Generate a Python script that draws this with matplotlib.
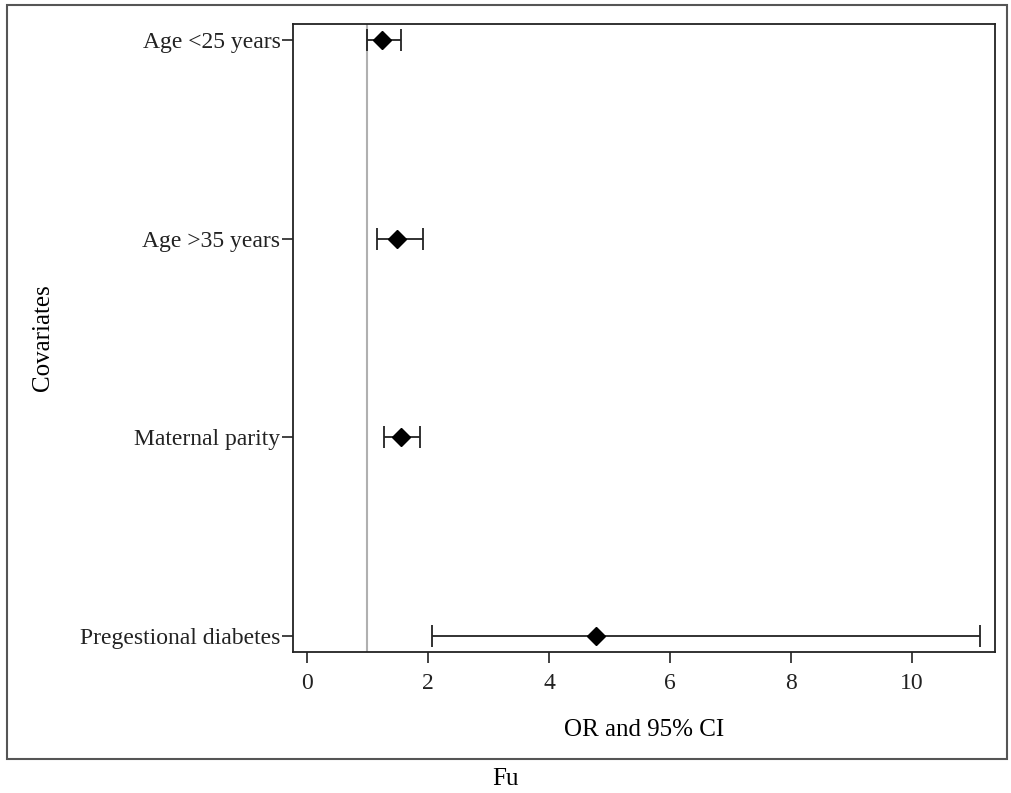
import matplotlib.pyplot as plt
from matplotlib.patches import Rectangle

# forest plot data
covariates = ["Age <25 years", "Age >35 years", "Maternal parity", "Pregestional diabetes"]
odds_ratio = [1.24, 1.49, 1.55, 4.78]
ci_low = [1.00, 1.15, 1.28, 2.06]
ci_high = [1.56, 1.92, 1.87, 11.12]
x_ticks = [0, 2, 4, 6, 8, 10]

plt.rcParams['font.family'] = ['Liberation Serif', 'DejaVu Serif']

fig = plt.figure(figsize=(10.11, 7.93), dpi=100)
ax = fig.add_axes([293 / 1011, 1 - 652 / 793, (995 - 293) / 1011, (652 - 24) / 793])

ypos = list(range(len(covariates), 0, -1))
err_lo = [o - l for o, l in zip(odds_ratio, ci_low)]
err_hi = [h - o for o, h in zip(odds_ratio, ci_high)]

ax.axvline(1, color='#b0b0b0', lw=1.5, zorder=1)
ax.errorbar(odds_ratio, ypos, xerr=[err_lo, err_hi], fmt='D', color='black',
            ecolor='#222222', elinewidth=1.3, capsize=8, capthick=1.3,
            markersize=9, zorder=3)

ax.set_xlim(-0.23, 11.37)
ax.set_ylim(0.92, 4.08)
ax.set_xticks(x_ticks)
ax.set_yticks(ypos)
ax.set_yticklabels(covariates)
ax.tick_params(direction='out', length=8, width=1.2, labelsize=17, colors='#222222')
ax.tick_params(axis='x', pad=7)
ax.tick_params(axis='y', pad=1)
for s in ax.spines.values():
    s.set_linewidth(1.3)
    s.set_color('#222222')

ax.set_xlabel("OR and 95% CI", fontsize=18, labelpad=18)
ax.set_ylabel("Covariates", fontsize=18, labelpad=19)

# outer frame around the figure
fig.patches.append(Rectangle((7 / 1011, 1 - 759 / 793), (1007 - 7) / 1011, (759 - 5) / 793,
                             transform=fig.transFigure, fill=False,
                             edgecolor='#555555', lw=1.5))
fig.text(0.5, 1 - 779 / 793, "Fu", ha='center', va='center', fontsize=18)

fig.savefig("out.png", dpi=100)
